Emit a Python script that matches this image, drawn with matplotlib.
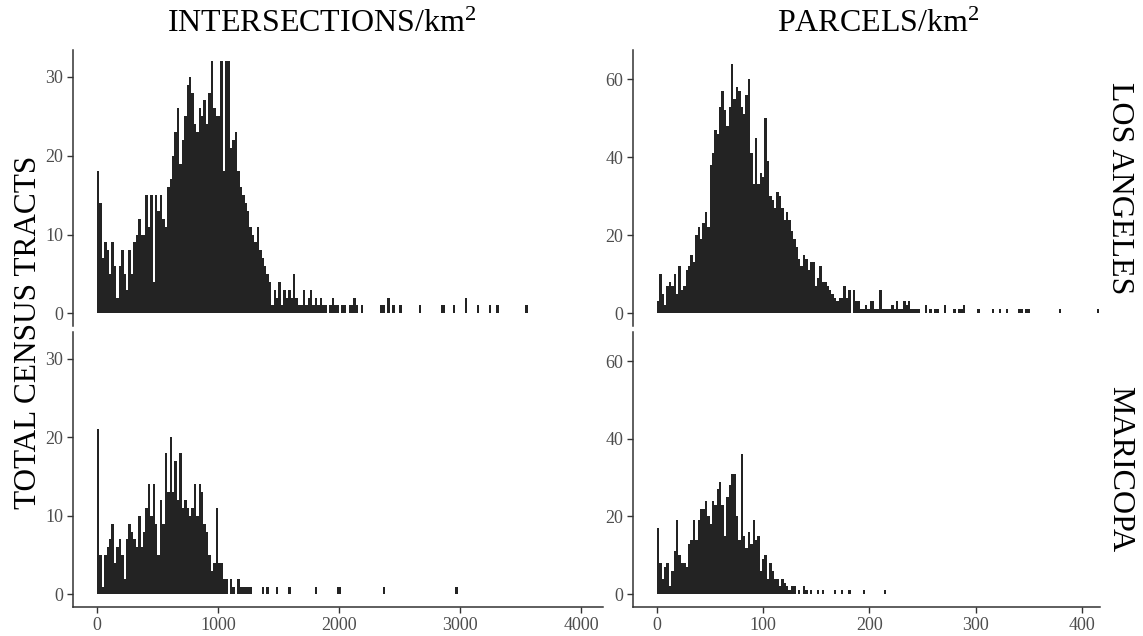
import numpy as np
import matplotlib.pyplot as plt

plt.rcParams['font.family'] = ['Liberation Serif', 'DejaVu Serif']
plt.rcParams['mathtext.fontset'] = 'custom'
plt.rcParams['mathtext.rm'] = 'Liberation Serif'
plt.rcParams['mathtext.it'] = 'Liberation Serif:italic'

# bin widths used for the two measures
INT_BIN = 20
PAR_BIN = 2.25

# Los Angeles, intersections/km2: dense part then sparse tail (bin index, count)
la_int_counts = [18, 14, 7, 9, 8, 5, 9, 6, 2, 6, 8, 5, 3, 8, 5, 9, 10, 12, 10, 10,
                 15, 11, 15, 4, 15, 13, 15, 12, 11, 16, 17, 20, 23, 26, 19, 22, 25, 29, 30, 28,
                 24, 23, 26, 25, 27, 24, 28, 32, 26, 25, 25, 32, 18, 32, 32, 21, 22, 23, 18, 16,
                 15, 14, 13, 11, 10, 9, 11, 8, 7, 6, 5, 4, 1, 3, 2, 4, 1, 3, 2, 3,
                 2, 5, 2, 1, 1, 3, 1, 2, 3, 1, 2, 1, 2, 1, 1, 0, 1, 2, 1, 1,
                 0, 1, 1, 0, 1, 1, 2, 1, 0, 1]
la_int_tail_bins = [117, 118, 120, 122, 125, 133, 142, 143, 147, 152, 157, 162, 165, 177]
la_int_tail_counts = [1, 1, 2, 1, 1, 1, 1, 1, 1, 2, 1, 1, 1, 1]

# Maricopa, intersections/km2
mc_int_counts = [21, 5, 1, 5, 6, 7, 9, 4, 6, 7, 5, 2, 7, 9, 8, 7, 6, 10, 6, 8,
                 11, 14, 10, 14, 9, 5, 12, 9, 18, 13, 20, 13, 17, 12, 18, 11, 12, 11, 10, 11,
                 14, 10, 14, 13, 9, 8, 5, 3, 4, 11, 4, 4, 2, 2, 0, 2, 1, 0, 2, 1,
                 1, 1, 1, 1]
mc_int_tail_bins = [68, 70, 74, 79, 90, 99, 100, 118, 148]
mc_int_tail_counts = [1, 1, 1, 1, 1, 1, 1, 1, 1]

# Los Angeles, parcels/km2
la_par_counts = [3, 10, 5, 2, 7, 8, 7, 10, 5, 12, 6, 7, 11, 12, 15, 13, 20, 22, 19, 23,
                 26, 22, 38, 41, 47, 46, 53, 57, 52, 48, 53, 64, 55, 58, 57, 53, 51, 56, 60, 41,
                 33, 45, 33, 36, 35, 50, 39, 30, 29, 27, 31, 30, 27, 24, 26, 24, 21, 19, 17, 14,
                 12, 15, 14, 11, 13, 13, 7, 9, 12, 8, 8, 7, 6, 5, 4, 3, 4, 4, 7, 4,
                 6, 0, 6, 3, 3, 1, 1, 2, 1, 3, 3, 1, 1, 6, 1, 1, 1, 1, 2, 1,
                 3, 1, 1, 3, 2, 3, 1, 1, 1, 1, 0, 0, 2, 0, 1, 0, 1, 1, 0, 0,
                 2, 0, 0, 0, 1, 0, 1, 1, 2]
la_par_tail_bins = [134, 140, 143, 146, 151, 152, 154, 155, 168, 184]
la_par_tail_counts = [1, 1, 1, 1, 1, 1, 1, 1, 1, 1]

# Maricopa, parcels/km2
mc_par_counts = [17, 8, 4, 7, 8, 2, 6, 11, 19, 10, 8, 8, 7, 13, 14, 19, 14, 19, 22, 22,
                 24, 20, 18, 24, 23, 27, 29, 23, 15, 25, 28, 31, 31, 20, 14, 36, 15, 12, 16, 13,
                 19, 14, 15, 6, 9, 10, 4, 8, 6, 4, 4, 2, 4, 3, 2, 1, 2, 2]
mc_par_tail_bins = [59, 61, 62, 64, 67, 69, 74, 77, 80, 86, 95]
mc_par_tail_counts = [1, 2, 1, 1, 1, 1, 1, 1, 1, 1, 1]

col_titles = [r'INTERSECTIONS/km$^2$', r'PARCELS/km$^2$']
row_titles = ['LOS ANGELES', 'MARICOPA']


def full_counts(main, tail_bins, tail_counts):
    counts = np.zeros(max(len(main), max(tail_bins) + 1))
    counts[:len(main)] = main
    counts[tail_bins] = tail_counts
    return counts


panels = [
    [(full_counts(la_int_counts, la_int_tail_bins, la_int_tail_counts), INT_BIN),
     (full_counts(la_par_counts, la_par_tail_bins, la_par_tail_counts), PAR_BIN)],
    [(full_counts(mc_int_counts, mc_int_tail_bins, mc_int_tail_counts), INT_BIN),
     (full_counts(mc_par_counts, mc_par_tail_bins, mc_par_tail_counts), PAR_BIN)],
]

W, H = 1143, 636
fig = plt.figure(figsize=(W / 100, H / 100), dpi=100)

col_x = [(73, 603), (633, 1100)]
row_y = [(50, 326), (332, 607)]
xlims = [(-198, 4182), (-22.5, 417)]
ylims = [(-1.6, 33.4), (-3.3, 67.5)]
xticks = [np.arange(0, 4001, 1000), np.arange(0, 401, 100)]
yticks = [[0, 10, 20, 30], [0, 20, 40, 60]]

axis_col = '#333333'
text_col = '#4d4d4d'

for r in range(2):
    for c in range(2):
        x0, x1 = col_x[c]
        y0, y1 = row_y[r]
        ax = fig.add_axes([x0 / W, 1 - y1 / H, (x1 - x0) / W, (y1 - y0) / H])
        counts, bw = panels[r][c]
        edges = np.arange(len(counts)) * bw
        ax.bar(edges, counts, width=bw, align='edge', color='#232323', linewidth=0)
        ax.set_xlim(*xlims[c])
        ax.set_ylim(*ylims[c])
        ax.set_yticks(yticks[c])
        for s in ['top', 'right']:
            ax.spines[s].set_visible(False)
        ax.spines['left'].set_color(axis_col)
        ax.spines['left'].set_linewidth(1.1)
        ax.tick_params(axis='both', direction='out', length=4, width=1, pad=3,
                       color=axis_col, labelcolor=text_col, labelsize=13)
        if r == 0:
            ax.spines['bottom'].set_visible(False)
            ax.set_xticks([])
        else:
            ax.spines['bottom'].set_color(axis_col)
            ax.spines['bottom'].set_linewidth(1.1)
            ax.set_xticks(xticks[c])

title_cx = [322, 878]
for c in range(2):
    fig.text(title_cx[c] / W, 1 - 24 / H, col_titles[c], ha='center', va='center',
             fontsize=23, color='black')

for r in range(2):
    cy = (row_y[r][0] + row_y[r][1]) / 2
    fig.text(1120 / W, 1 - cy / H, row_titles[r], ha='center', va='center',
             rotation=-90, fontsize=23, color='black')

fig.text(29 / W, 1 - 332 / H, 'TOTAL CENSUS TRACTS', ha='center', va='center',
         rotation=90, fontsize=22.5, color='black')

fig.savefig('out.png', dpi=100)
